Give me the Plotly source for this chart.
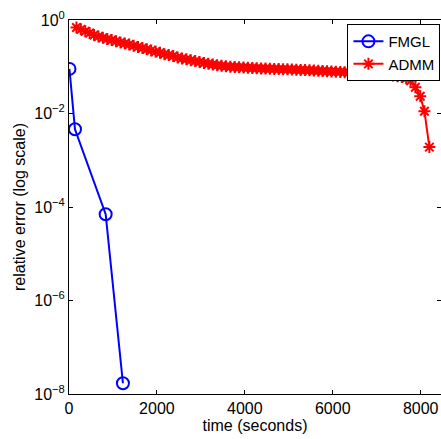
import plotly.graph_objects as go

# FMGL: run time (s) and relative error
fmgl_time = [10, 136, 834, 1227]
fmgl_err = [0.09, 0.0046, 7.0e-5, 1.7e-8]

# ADMM: run time (s) and relative error per iteration
admm_time = [
    170, 270, 370, 470, 570, 670, 770, 870, 970, 1070,
    1170, 1270, 1370, 1470, 1570, 1670, 1770, 1870, 1970, 2070,
    2170, 2270, 2370, 2470, 2570, 2670, 2770, 2870, 2970, 3070,
    3170, 3270, 3370, 3470, 3570, 3670, 3770, 3870, 3970, 4070,
    4170, 4270, 4370, 4470, 4570, 4670, 4770, 4870, 4970, 5070,
    5170, 5270, 5370, 5470, 5570, 5670, 5770, 5870, 5970, 6070,
    6170, 6270, 6370, 6470, 6570, 6670, 6770, 6870, 6970, 7070,
    7170, 7270, 7370, 7470, 7570, 7670, 7770, 7880, 7990, 8085,
    8198,
]
admm_err = [
    0.692, 0.631, 0.575, 0.525, 0.479, 0.442, 0.417, 0.394, 0.372, 0.351,
    0.331, 0.316, 0.299, 0.282, 0.266, 0.251, 0.237, 0.224, 0.211, 0.200,
    0.186, 0.178, 0.170, 0.158, 0.151, 0.145, 0.138, 0.132, 0.126, 0.120,
    0.116, 0.112, 0.108, 0.105, 0.102, 0.100, 0.0989, 0.0977, 0.0966, 0.0955,
    0.0944, 0.0933, 0.0923, 0.0912, 0.0906, 0.0899, 0.0891, 0.0885, 0.0879, 0.0871,
    0.0863, 0.0855, 0.0847, 0.0839, 0.0832, 0.0822, 0.0813, 0.0804, 0.0794, 0.0785,
    0.0776, 0.0767, 0.0759, 0.0750, 0.0741, 0.0733, 0.0724, 0.0716, 0.0708, 0.0692,
    0.0684, 0.0668, 0.0646, 0.0624, 0.0603, 0.0569, 0.0501, 0.0363, 0.0234, 0.0112,
    0.00191,
]

x_ticks = [0, 2000, 4000, 6000, 8000]
y_ticks = [1, 1e-2, 1e-4, 1e-6, 1e-8]
y_tick_text = ["10<sup>0</sup>", "10<sup>−2</sup>", "10<sup>−4</sup>",
               "10<sup>−6</sup>", "10<sup>−8</sup>"]

FONT = "Liberation Sans, Arial, sans-serif"
X_RANGE = [0, 8462]
Y_RANGE = [-8, 0]

fig = go.Figure()
fig.add_trace(go.Scatter(
    x=fmgl_time, y=fmgl_err, name="FMGL", mode="lines+markers",
    line=dict(color="#0000ff", width=2),
    marker=dict(symbol="circle-open", size=12, color="#0000ff",
                line=dict(width=2, color="#0000ff")),
))
fig.add_trace(go.Scatter(
    x=admm_time, y=admm_err, name="ADMM", mode="lines+markers",
    line=dict(color="#ff0000", width=2),
    marker=dict(symbol="asterisk-open", size=10, color="#ff0000",
                line=dict(width=2, color="#ff0000")),
))
# empty trace that carries the top / right tick axes
fig.add_trace(go.Scatter(x=[], y=[], xaxis="x2", yaxis="y2",
                         showlegend=False, hoverinfo="skip"))

fig.update_layout(
    width=441, height=439,
    margin=dict(l=69, r=0, t=20, b=45),
    paper_bgcolor="white", plot_bgcolor="white",
    font=dict(family=FONT, size=16, color="black"),
    showlegend=True,
    legend=dict(
        x=0.9985, xanchor="right", y=0.989, yanchor="top",
        bgcolor="white", bordercolor="black", borderwidth=1,
        font=dict(size=15), tracegroupgap=0, itemwidth=30,
    ),
    xaxis=dict(
        range=X_RANGE, tickvals=x_ticks, ticks="inside", ticklen=4,
        tickcolor="black", showline=True, linecolor="black", linewidth=1,
        showgrid=False, zeroline=False, tickfont=dict(size=16),
        title=dict(text="time (seconds)", font=dict(size=16), standoff=2),
    ),
    yaxis=dict(
        type="log", range=Y_RANGE, tickvals=y_ticks, ticktext=y_tick_text,
        ticks="inside", ticklen=4, tickcolor="black",
        showline=True, linecolor="black", linewidth=1,
        showgrid=False, zeroline=False, tickfont=dict(size=16),
        title=dict(text="relative error (log scale)", font=dict(size=16),
                   standoff=4),
    ),
    xaxis2=dict(
        overlaying="x", side="top", range=X_RANGE, tickvals=x_ticks,
        ticks="inside", ticklen=4, tickcolor="black", showticklabels=False,
        showline=True, linecolor="black", linewidth=1,
        showgrid=False, zeroline=False,
    ),
    yaxis2=dict(
        overlaying="y", side="right", type="log", range=Y_RANGE,
        tickvals=y_ticks, ticks="inside", ticklen=4, tickcolor="black",
        showticklabels=False, showline=False, showgrid=False, zeroline=False,
    ),
)

fig.write_html("out.html")
